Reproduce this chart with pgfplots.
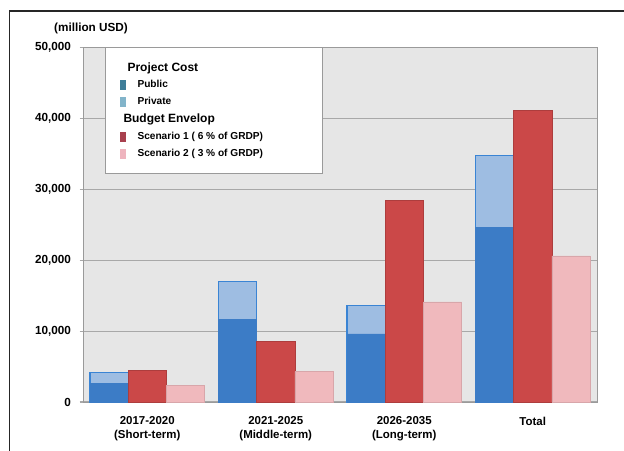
\documentclass[border=0pt]{standalone}
\usepackage{pgfplots}
\pgfplotsset{compat=1.18}
\usepackage{pgfplotstable}
\usepackage{fontspec}
\setmainfont{Liberation Sans}

\definecolor{plotbg}{HTML}{E6E6E6}
\definecolor{gridgray}{HTML}{A8A8A8}
\definecolor{framegray}{HTML}{9A9A9A}
\definecolor{pub}{HTML}{3C7CC6}
\definecolor{privfill}{HTML}{9EBDE2}
\definecolor{privdraw}{HTML}{3A84D4}
\definecolor{scA}{HTML}{CB4848}
\definecolor{scB}{HTML}{F0B9BD}
\definecolor{pubL}{HTML}{3E7E99}
\definecolor{privL}{HTML}{82B4CA}
\definecolor{scAL}{HTML}{A8404E}
\definecolor{scBL}{HTML}{EEB4BE}

% project cost (public part and total) and budget envelopes, million USD
\pgfplotstableread{
x  public  total  scen1  scen2
0  2600    4200   4400   2300
1  11700   17000  8500   4300
2  9600    13600  28400  14100
3  24600   34800  41100  20600
}\costdata

% narrow swatch for the legend, with extra room before the text
\pgfplotsset{swatch/.style={legend image code/.code={%
  \path[draw=none, fill=#1] (0pt,-3.6pt) rectangle (4.2pt,3.6pt);
  \path[draw=none, fill=none] (0pt,0pt) -- (11pt,0pt);}}}

\begin{document}
\begin{tikzpicture}
\useasboundingbox (-62.25pt,-36pt) rectangle (405.75pt,301.5pt);
\draw[line width=1.2pt, black!85] (-55.1pt,-40pt) -- (-55.1pt,293.25pt) -- (410pt,293.25pt);
\node[font=\fontsize{8.8}{10}\selectfont\bfseries] at (6pt,280.5pt) {(million USD)};
\begin{axis}[
  at={(0,0)}, anchor=south west,
  scale only axis, width=385.5pt, height=266pt,
  xmin=-0.5, xmax=3.5, ymin=0, ymax=50000,
  axis background/.style={fill=plotbg},
  axis line style={draw=framegray, line width=0.6pt},
  ytick={0,10000,20000,30000,40000,50000},
  ymajorgrids, grid style={draw=gridgray, line width=0.8pt},
  ytick pos=left, tick align=outside, major tick length=2.5pt,
  ytick style={draw=gridgray, line width=0.8pt},
  scaled y ticks=false,
  yticklabel style={font=\fontsize{8.8}{10}\selectfont\bfseries, xshift=-3pt,
    /pgf/number format/.cd, 1000 sep={,}, assume math mode=true},
  xtick={0,1,2,3},
  xticklabels={{2017-2020\\(Short-term)},{2021-2025\\(Middle-term)},{2026-2035\\(Long-term)},{Total}},
  xtick style={draw=none},
  xticklabel style={align=center, font=\fontsize{8.6}{10.3}\selectfont\bfseries, yshift=-5pt},
  ybar, bar width=0.297,
  legend cell align=left,
  legend style={at={(0.043,1)}, anchor=north west, draw=framegray, fill=white,
    line width=0.6pt, inner xsep=11pt, inner ysep=9pt, row sep=1.6pt,
    font=\fontsize{7.6}{9}\selectfont\bfseries},
]
% project cost: total bar (private on top) with the public part drawn over it
\addplot[fill=privfill, draw=privdraw, line width=0.9pt, bar shift=0pt, forget plot]
  table[x expr=\thisrow{x}-0.297, y=total] {\costdata};
\addplot[fill=pub, draw=pub, line width=0.5pt, bar shift=0pt, forget plot]
  table[x expr=\thisrow{x}-0.297, y=public] {\costdata};
% budget envelopes
\addplot[fill=scA, draw=scA!85!black, line width=0.5pt, bar shift=0pt, forget plot]
  table[x=x, y=scen1] {\costdata};
\addplot[fill=scB, draw=scB!90!black, line width=0.5pt, bar shift=0pt, forget plot]
  table[x expr=\thisrow{x}+0.297, y=scen2] {\costdata};

\addlegendimage{empty legend}
\addlegendentry{\hspace{-7.5pt}\fontsize{9}{11}\selectfont Project Cost}
\addlegendimage{swatch=pubL}
\addlegendentry{Public}
\addlegendimage{swatch=privL}
\addlegendentry{Private}
\addlegendimage{empty legend}
\addlegendentry{\hspace{-10.5pt}\fontsize{9}{11}\selectfont Budget Envelop}
\addlegendimage{swatch=scAL}
\addlegendentry{\makebox[125.5pt][l]{Scenario 1 ( 6 \% of GRDP)}}
\addlegendimage{swatch=scBL}
\addlegendentry{Scenario 2 ( 3 \% of GRDP)}
\end{axis}
\end{tikzpicture}
\end{document}
